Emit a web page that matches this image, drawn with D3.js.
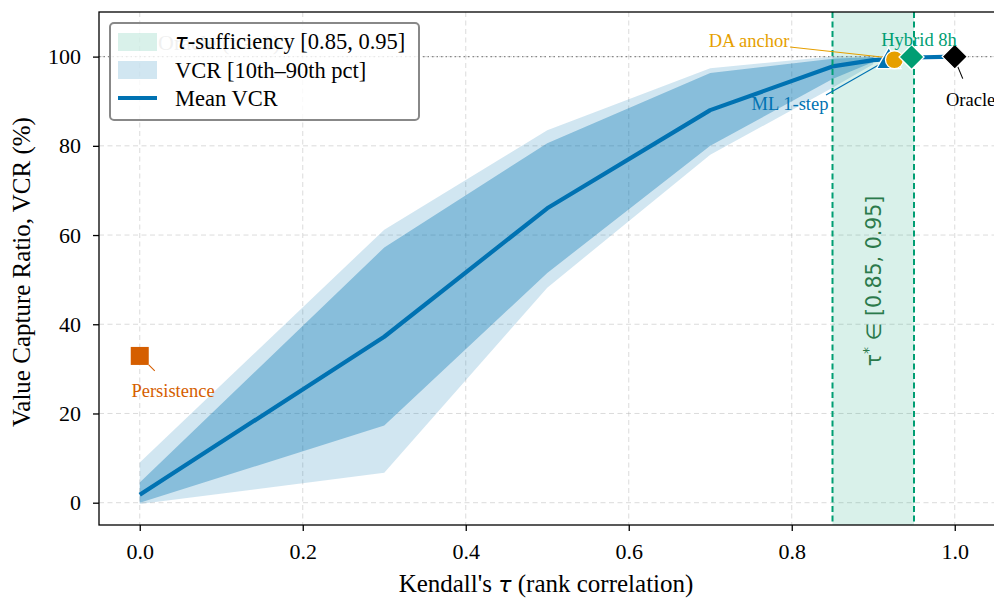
<!DOCTYPE html>
<html><head><meta charset="utf-8">
<script src="https://cdn.jsdelivr.net/npm/d3@7"></script>
<style>body{margin:0;background:#fff}svg{display:block}</style>
</head><body><div id="chart"></div>
<script>
// ---- data ----
const taus      = [0.0, 0.3, 0.5, 0.7, 0.85, 0.9, 0.95, 1.0];
const meanVCR   = [1.8, 37.2, 66.0, 88.0, 97.8, 99.2, 99.8, 100];
const p10       = [-0.3, 6.7, 48.2, 78.0, 93.0, 98.3, 99.6, 100];
const p90       = [9.0, 61.2, 83.5, 97.4, 100, 100, 100, 100];
const p25       = [0.0, 17.3, 51.5, 80.0, 95.0, 98.8, 99.7, 100];
const p75       = [4.5, 57.2, 80.6, 96.3, 99.5, 99.9, 100, 100];
const xTicks    = [0.0, 0.2, 0.4, 0.6, 0.8, 1.0];
const yTicks    = [0, 20, 40, 60, 80, 100];
const sufficiency = [0.85, 0.95];
const methods   = ["Persistence", "ML 1-step", "DA anchor", "Hybrid 8h", "Oracle"];
const methodTau = [0.0, 0.919, 0.926, 0.947, 1.0];
const methodVCR = [32.9, 98.9, 99.3, 99.9, 100];

const W = 994, H = 598;
const L = 99, R = 995.5, T = 12, B = 525;
const svg = d3.select("#chart").append("svg").attr("width", W).attr("height", H)
  .style("font-family", "'Liberation Serif','Times New Roman',serif");
const x = d3.scaleLinear().domain([-0.05, 1.05]).range([L, R]);
const y = d3.scaleLinear().domain([-5, 110]).range([B, T]);

const g = svg.append("g");
svg.append("defs").append("clipPath").attr("id", "clip").append("rect")
  .attr("x", L).attr("y", T).attr("width", R - L).attr("height", B - T);

// grid
g.selectAll(".gx").data(xTicks).join("line")
  .attr("x1", d => x(d)).attr("x2", d => x(d)).attr("y1", T).attr("y2", B)
  .attr("stroke", "#b0b0b0").attr("stroke-opacity", 0.45).attr("stroke-dasharray", "5,3.5").attr("stroke-width", 1);
g.selectAll(".gy").data(yTicks).join("line")
  .attr("y1", d => y(d)).attr("y2", d => y(d)).attr("x1", L).attr("x2", R)
  .attr("stroke", "#b0b0b0").attr("stroke-opacity", 0.45).attr("stroke-dasharray", "5,3.5").attr("stroke-width", 1);

// sufficiency band
g.append("rect").attr("x", x(sufficiency[0])).attr("width", x(sufficiency[1]) - x(sufficiency[0]))
  .attr("y", T).attr("height", B - T).attr("fill", "#009e73").attr("fill-opacity", 0.15);

// label hidden behind the legend
g.append("text").attr("x", 158).attr("y", 50).attr("font-size", 22)
  .attr("fill", "#aaa").text("Oracle (τ = 1)");

// 100% reference line
g.append("line").attr("x1", L).attr("x2", R).attr("y1", y(100)).attr("y2", y(100))
  .attr("stroke", "#888").attr("stroke-width", 1.3).attr("stroke-dasharray", "1.5,3");

const idx = d3.range(taus.length);
const areaOuter = d3.area().x(i => x(taus[i])).y0(i => y(p10[i])).y1(i => y(p90[i]));
const areaInner = d3.area().x(i => x(taus[i])).y0(i => y(p25[i])).y1(i => y(p75[i]));
const plot = g.append("g").attr("clip-path", "url(#clip)");
plot.append("path").datum(idx.filter(i => taus[i] <= 0.9)).attr("d", areaOuter).attr("fill", "#0072b2").attr("fill-opacity", 0.18);
plot.append("path").datum(idx.filter(i => taus[i] <= 0.9)).attr("d", areaInner).attr("fill", "#0072b2").attr("fill-opacity", 0.35);
plot.append("path").datum(idx).attr("d", d3.line().x(i => x(taus[i])).y(i => y(meanVCR[i])))
  .attr("fill", "none").attr("stroke", "#0072b2").attr("stroke-width", 4.2).attr("stroke-linejoin", "round");

// vertical dashed lines
g.selectAll(".vl").data(sufficiency).join("line")
  .attr("x1", d => x(d)).attr("x2", d => x(d)).attr("y1", T).attr("y2", B)
  .attr("stroke", "#009e73").attr("stroke-width", 2).attr("stroke-dasharray", "6,3.5");

// vertical text
const vt = g.append("text").attr("transform", `translate(${x(0.9) + 8},281) rotate(-90)`)
  .attr("text-anchor", "middle").attr("font-family", "'DejaVu Sans',sans-serif").attr("font-size", 20.5)
  .attr("fill", "#2b7a4b");
vt.append("tspan").text("τ");
vt.append("tspan").attr("dy", -8).attr("font-size", 14).text("*");
vt.append("tspan").attr("dy", 8).text(" ∈ [0.85, 0.95]");

// annotation lines
const ann = [
  {x1: x(0.0) + 9, y1: y(32.9) + 9, x2: x(0.0) + 15, y2: y(32.9) + 15, col: "#d55e00"},
  {x1: 826, y1: 95, x2: x(methodTau[1]) - 4, y2: y(methodVCR[1]), col: "#0072b2"},
  {x1: 790, y1: 47, x2: x(methodTau[2]) - 6, y2: y(methodVCR[2]) - 2, col: "#e69f00"},
  {x1: x(1.0) + 3, y1: y(100) + 10, x2: x(1.0) + 8, y2: y(100) + 22, col: "#000"}
];
g.selectAll(".ann").data(ann).join("line")
  .attr("x1", d => d.x1).attr("y1", d => d.y1).attr("x2", d => d.x2).attr("y2", d => d.y2)
  .attr("stroke", d => d.col).attr("stroke-width", 1.1);

// markers
const mk = g.append("g");
mk.append("rect").attr("x", x(methodTau[0]) - 9).attr("y", y(methodVCR[0]) - 9).attr("width", 18).attr("height", 18)
  .attr("fill", "#d55e00");
mk.append("path").attr("transform", `translate(${x(methodTau[1])},${y(methodVCR[1])})`)
  .attr("d", d3.symbol(d3.symbolTriangle, 260)()).attr("fill", "#0072b2").attr("stroke", "#fff").attr("stroke-width", 1.3);
mk.append("circle").attr("cx", x(methodTau[2])).attr("cy", y(methodVCR[2])).attr("r", 9)
  .attr("fill", "#e69f00").attr("stroke", "#fff").attr("stroke-width", 1.3);
const dia = r => `M0,${-r}L${r},0L0,${r}L${-r},0Z`;
mk.append("path").attr("transform", `translate(${x(methodTau[3])},${y(methodVCR[3])})`).attr("d", dia(12.5))
  .attr("fill", "#009e73").attr("stroke", "#fff").attr("stroke-width", 1.3);
mk.append("path").attr("transform", `translate(${x(methodTau[4])},${y(methodVCR[4])})`).attr("d", dia(12.5))
  .attr("fill", "#000").attr("stroke", "#fff").attr("stroke-width", 1.3);

// labels
const labs = [
  {t: methods[0], x: 173, y: 397, col: "#d55e00", a: "middle"},
  {t: methods[1], x: 790, y: 110, col: "#0072b2", a: "middle"},
  {t: methods[2], x: 749, y: 47, col: "#e69f00", a: "middle"},
  {t: methods[3], x: 919, y: 46, col: "#009e73", a: "middle"},
  {t: methods[4], x: 946, y: 106, col: "#000", a: "start"}
];
g.selectAll(".lab").data(labs).join("text")
  .attr("x", d => d.x).attr("y", d => d.y).attr("text-anchor", d => d.a)
  .attr("fill", d => d.col).attr("font-size", 18.5).text(d => d.t);

// frame
g.append("rect").attr("x", L).attr("y", T).attr("width", R - L).attr("height", B - T)
  .attr("fill", "none").attr("stroke", "#000").attr("stroke-width", 1.3);

// axes
const xa = svg.append("g").attr("transform", `translate(0,${B})`)
  .call(d3.axisBottom(x).tickValues(xTicks).tickFormat(d3.format(".1f")).tickSize(6).tickPadding(12));
const ya = svg.append("g").attr("transform", `translate(${L},0)`)
  .call(d3.axisLeft(y).tickValues(yTicks).tickSize(6).tickPadding(12));
[xa, ya].forEach(a => {
  a.select(".domain").remove();
  a.selectAll("line").attr("stroke", "#000").attr("stroke-width", 1.3);
  a.selectAll("text").attr("font-family", "'Liberation Serif','Times New Roman',serif").attr("font-size", 22).attr("fill", "#000");
});

// axis labels
const xl = svg.append("text").attr("x", 546).attr("y", 592).attr("text-anchor", "middle")
  .attr("font-size", 25);
xl.append("tspan").text("Kendall's ");
xl.append("tspan").attr("font-family", "'DejaVu Sans',sans-serif").attr("font-style", "italic").attr("font-size", 22).text("τ");
xl.append("tspan").text(" (rank correlation)");
svg.append("text").attr("transform", `translate(30,272) rotate(-90)`).attr("text-anchor", "middle")
  .attr("font-size", 25).text("Value Capture Ratio, VCR (%)");

// legend
const lg = svg.append("g").attr("transform", "translate(110,23)");
lg.append("rect").attr("width", 309).attr("height", 97).attr("rx", 4)
  .attr("fill", "#fff").attr("fill-opacity", 0.82).attr("stroke", "#888").attr("stroke-width", 2);
lg.append("rect").attr("x", 8).attr("y", 10).attr("width", 39).attr("height", 18).attr("fill", "#009e73").attr("fill-opacity", 0.15);
lg.append("rect").attr("x", 8).attr("y", 38).attr("width", 39).attr("height", 18).attr("fill", "#0072b2").attr("fill-opacity", 0.18);
lg.append("line").attr("x1", 8).attr("x2", 47).attr("y1", 75).attr("y2", 75).attr("stroke", "#0072b2").attr("stroke-width", 4);
const t1 = lg.append("text").attr("x", 65).attr("y", 26).attr("font-size", 22.5);
t1.append("tspan").attr("font-family", "'DejaVu Sans',sans-serif").attr("font-style", "italic").attr("font-size", 21).text("τ");
t1.append("tspan").text("-sufficiency [0.85, 0.95]");
lg.append("text").attr("x", 65).attr("y", 55).attr("font-size", 22.5).text("VCR [10th–90th pct]");
lg.append("text").attr("x", 65).attr("y", 83).attr("font-size", 22.5).text("Mean VCR");
</script></body></html>
